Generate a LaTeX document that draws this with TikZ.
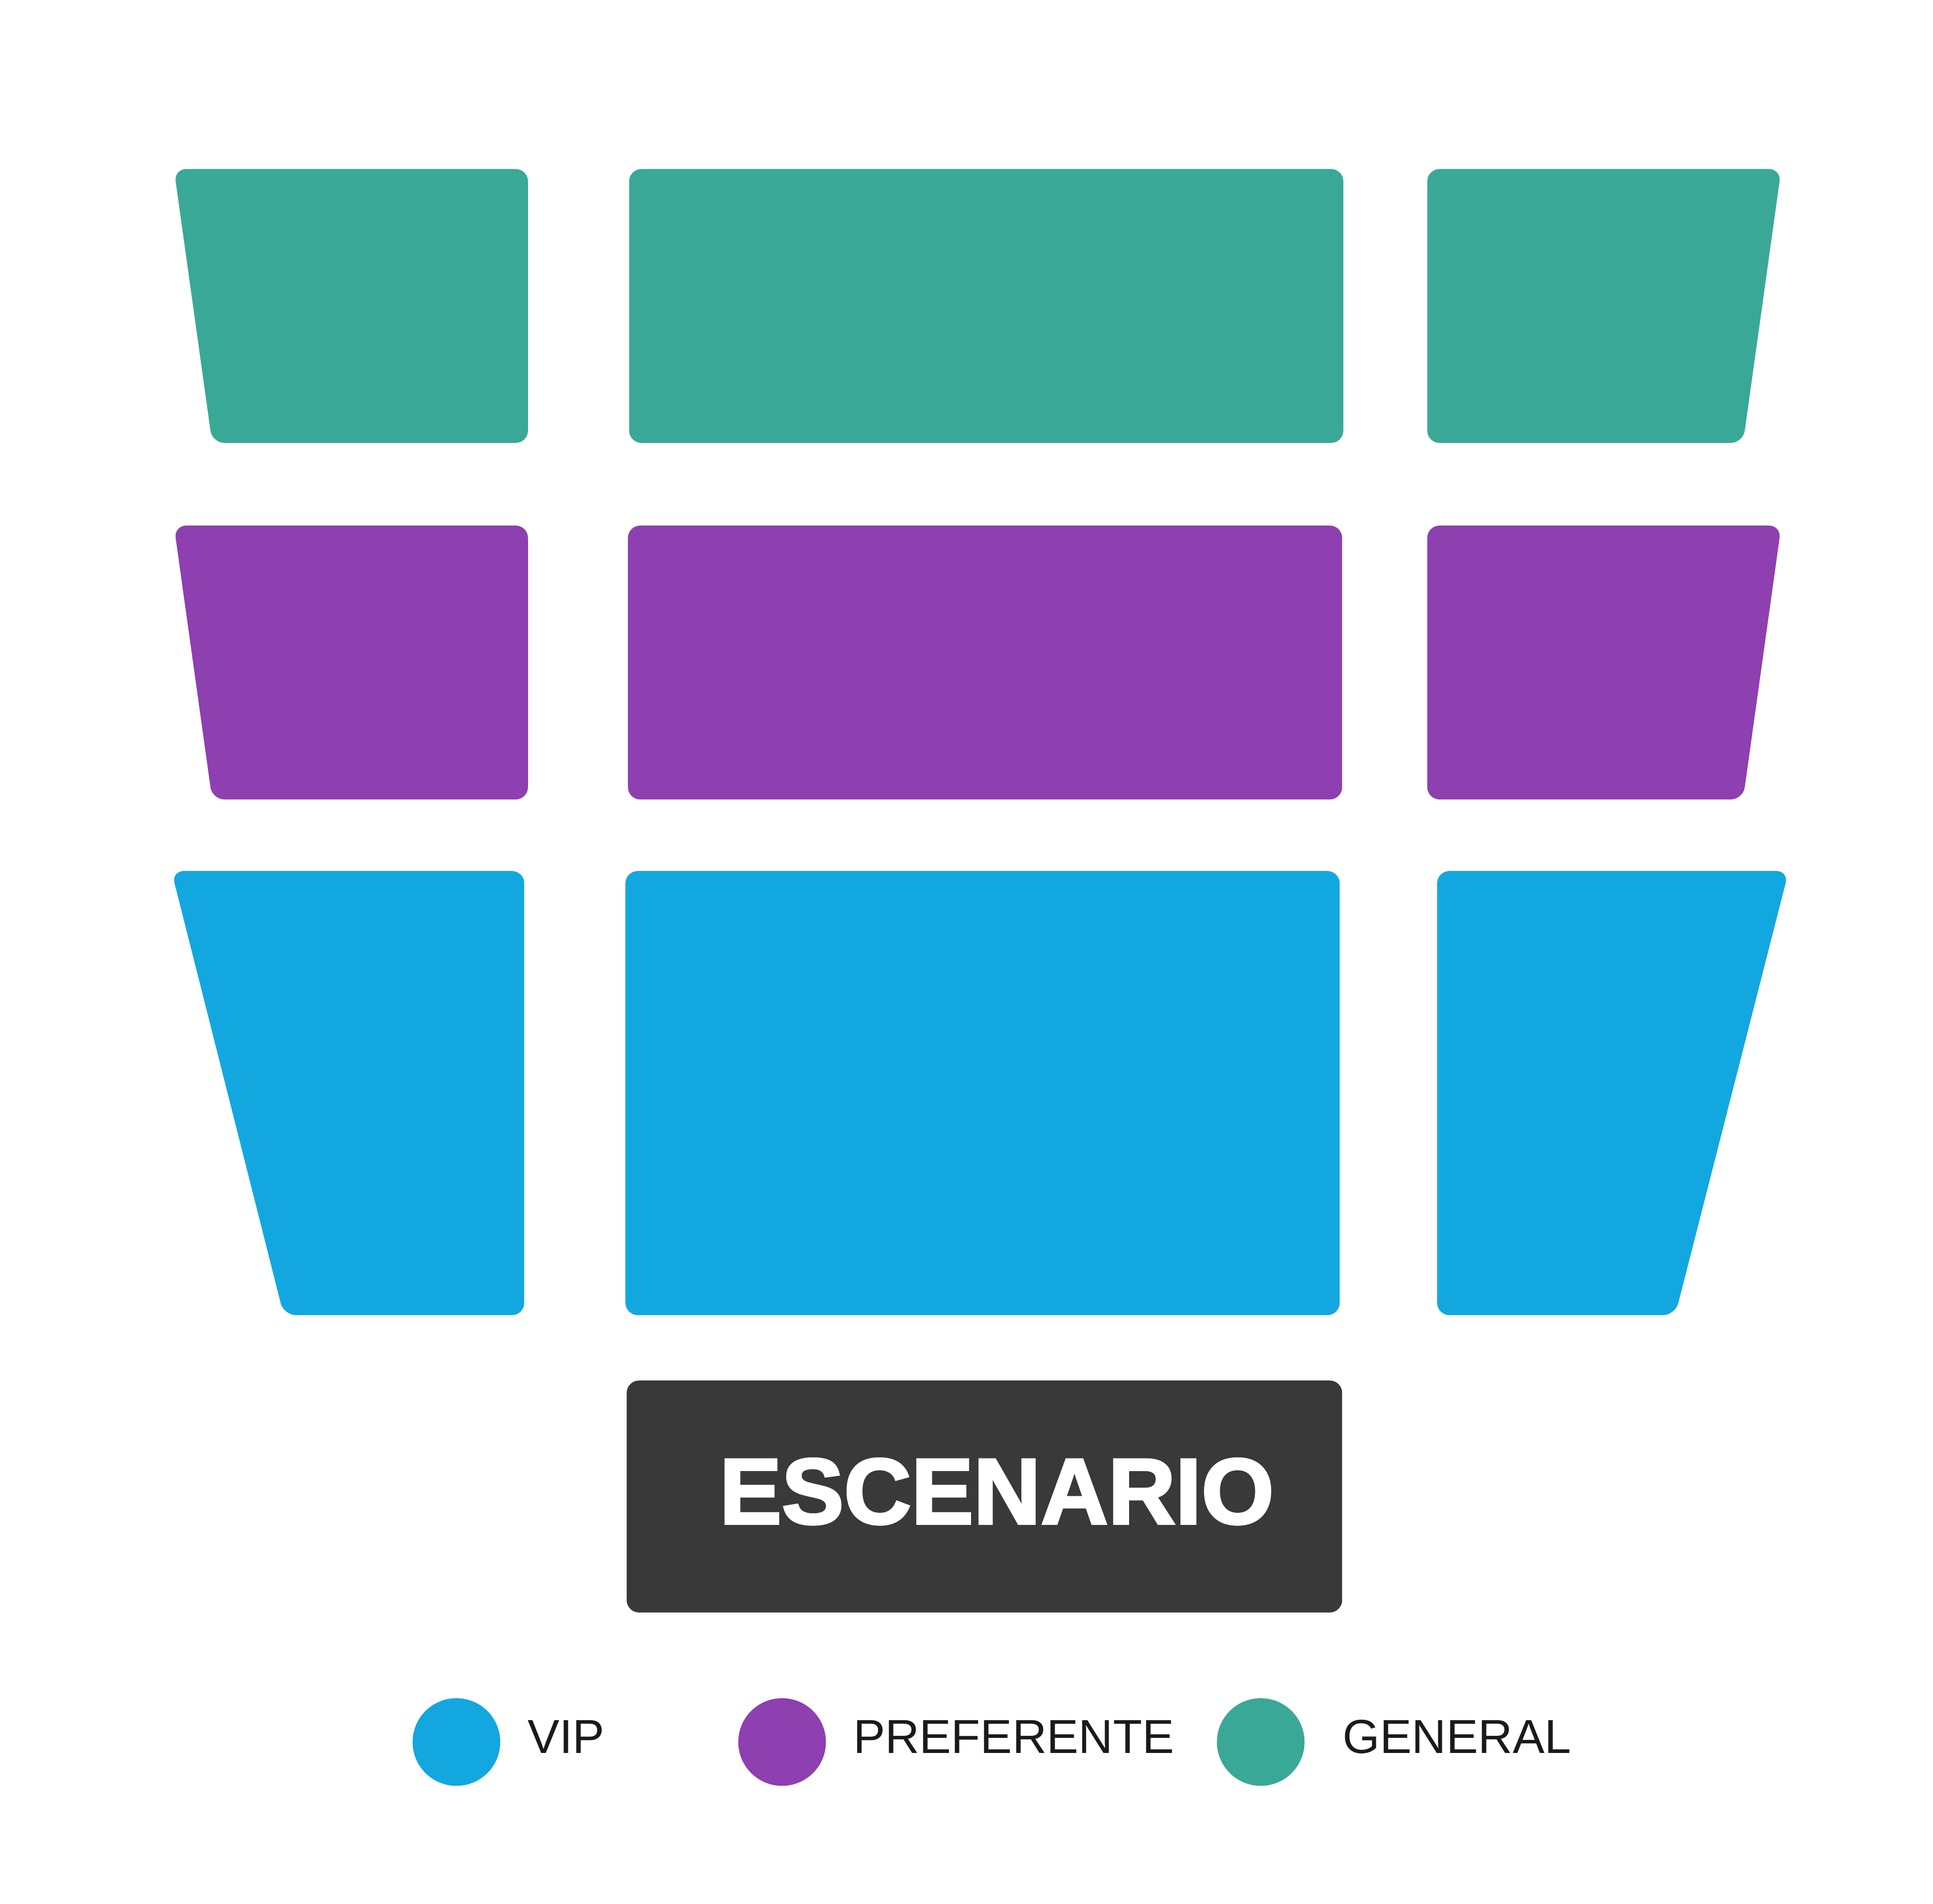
\documentclass[tikz,border=0pt]{standalone}
\usepackage{fontspec}
\setmainfont{Liberation Sans}
\newfontfamily\stagefont[FakeBold=2.5]{Liberation Sans Bold}
\definecolor{cgen}{HTML}{3AA897}
\definecolor{cpre}{HTML}{8E3FB0}
\definecolor{cvip}{HTML}{13A7E0}
\definecolor{cstage}{HTML}{3A393A}
\definecolor{ctext}{HTML}{1A1A1A}
\tikzset{
  seat/.style={fill=#1, draw=none, rounded corners=1mm},
  legdot/.style={circle, fill=#1, draw=none, minimum size=0.71cm, inner sep=0pt},
  legtext/.style={anchor=base west, inner sep=0pt, text=ctext, font=\fontsize{11}{13}\selectfont},
}
\begin{document}
\begin{tikzpicture}[x=0.01cm, y=-0.01cm]
\useasboundingbox[fill=white] (0,0) rectangle (1567,1543.3);
% GENERAL row
\fill[seat=cgen] (141,137) -- (428,137) -- (428,359) -- (172,359) -- cycle;
\fill[seat=cgen] (510,137) -- (1089,137) -- (1089,359) -- (510,359) -- cycle;
\fill[seat=cgen] (1157,137) -- (1444,137) -- (1413,359) -- (1157,359) -- cycle;
% PREFERENTE row
\fill[seat=cpre] (141,426) -- (428,426) -- (428,648) -- (172,648) -- cycle;
\fill[seat=cpre] (509,426) -- (1088,426) -- (1088,648) -- (509,648) -- cycle;
\fill[seat=cpre] (1157,426) -- (1444,426) -- (1413,648) -- (1157,648) -- cycle;
% VIP row
\fill[seat=cvip] (139,706) -- (425,706) -- (425,1066) -- (230,1066) -- cycle;
\fill[seat=cvip] (507,706) -- (1086,706) -- (1086,1066) -- (507,1066) -- cycle;
\fill[seat=cvip] (1165,706) -- (1450,706) -- (1358,1066) -- (1165,1066) -- cycle;
% Stage
\fill[seat=cstage] (508,1119) -- (1088,1119) -- (1088,1307) -- (508,1307) -- cycle;
\node[anchor=base, inner sep=0pt, text=white, font=\stagefont\fontsize{21.5}{24}\selectfont] (stage) at (808,1235) {ESCENARIO};
% Legend
\node[legdot=cvip] (dvip) at (370,1412) {};
\node[legtext] (tvip) at (427,1421) {VIP};
\node[legdot=cpre] (dpre) at (634,1412) {};
\node[legtext] (tpre) at (691,1421) {PREFERENTE};
\node[legdot=cgen] (dgen) at (1022,1412) {};
\node[legtext] (tgen) at (1088,1421) {GENERAL};
\end{tikzpicture}
\end{document}
